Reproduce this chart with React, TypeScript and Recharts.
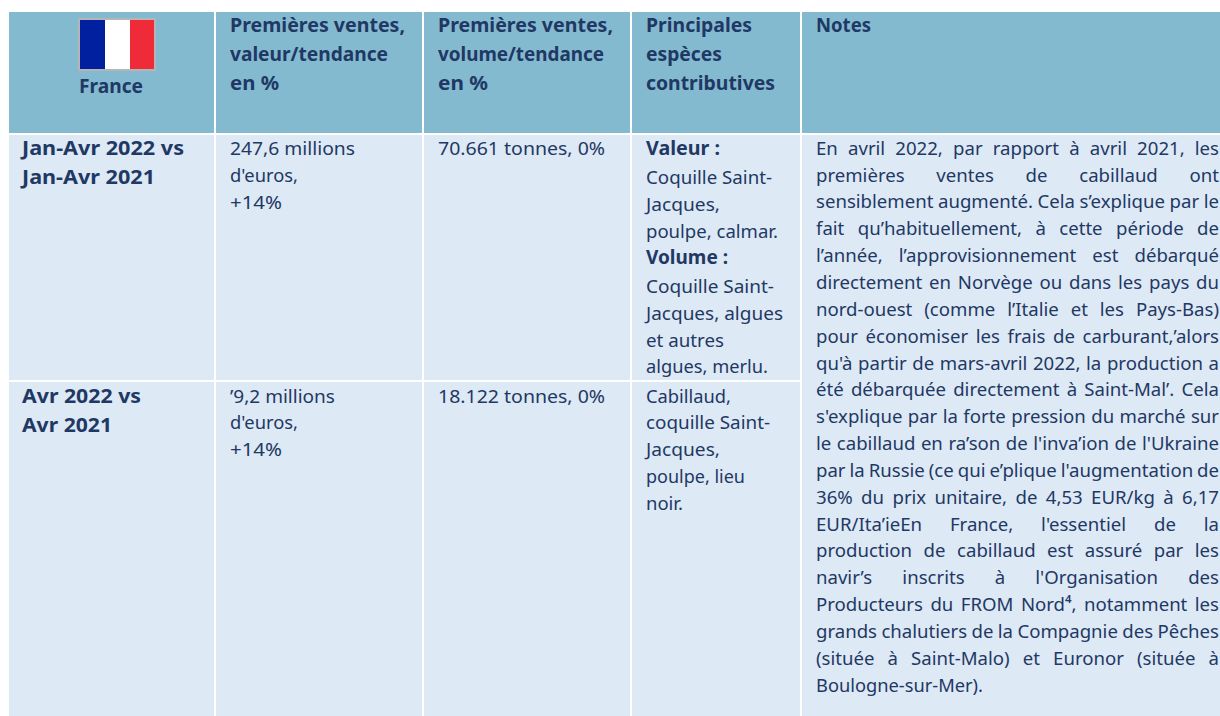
import React from "react";
import { ComposedChart, XAxis, YAxis, ReferenceArea, Scatter } from "recharts";

// ---- content ----
const headerCols = [
  ["Premières ventes,", "valeur/tendance", "en %"],
  ["Premières ventes,", "volume/tendance", "en %"],
  ["Principales", "espèces", "contributives"],
  ["Notes"],
];
const countryLabel = "France";
const periodLabels = [
  ["Jan-Avr 2022 vs", "Jan-Avr 2021"],
  ["Avr 2022 vs", "Avr 2021"],
];
const valueCells = [
  ["247,6 millions", "d'euros,", "+14%"],
  ["’9,2 millions", "d'euros,", "+14%"],
];
const volumeCells = ["70.661 tonnes, 0%", "18.122 tonnes, 0%"];
const speciesRow1: [string, boolean][] = [
  ["Valeur :", true],
  ["Coquille Saint-", false],
  ["Jacques,", false],
  ["poulpe, calmar.", false],
  ["Volume :", true],
  ["Coquille Saint-", false],
  ["Jacques, algues", false],
  ["et autres", false],
  ["algues, merlu.", false],
];
const speciesRow2 = ["Cabillaud,", "coquille Saint-", "Jacques,", "poulpe, lieu", "noir."];
const notesLines = [
  "En avril 2022, par rapport à avril 2021, les",
  "premières ventes de cabillaud ont",
  "sensiblement augmenté. Cela s’explique par le",
  "fait qu’habituellement, à cette période de",
  "l’année, l’approvisionnement est débarqué",
  "directement en Norvège ou dans les pays du",
  "nord-ouest (comme l’Italie et les Pays-Bas)",
  "pour économiser les frais de carburant,’alors",
  "qu'à partir de mars-avril 2022, la production a",
  "été débarquée directement à Saint-Mal’. Cela",
  "s'explique par la forte pression du marché sur",
  "le cabillaud en ra’son de l'inva’ion de l'Ukraine",
  "par la Russie (ce qui e’plique l'augmentation de",
  "36% du prix unitaire, de 4,53 EUR/kg à 6,17",
  "EUR/Ita’ieEn France, l'essentiel de la",
  "production de cabillaud est assuré par les",
  "navir’s inscrits à l'Organisation des",
  "Producteurs du FROM Nord⁴, notamment les",
  "grands chalutiers de la Compagnie des Pêches",
  "(située à Saint-Malo) et Euronor (située à",
  "Boulogne-sur-Mer).",
];

// ---- layout (table grid in page pixels) ----
const W = 1220;
const H = 716;
const colEdges = [[9, 214], [216, 422], [424, 630], [632, 800], [802, 1220]];
const headerBand = [12, 133];
const row1Band = [135, 380];
const row2Band = [382, 716];
const textX = [22, 230, 438, 646, 816];
const notesRight = 1219;
const FONT = '"Noto Sans", sans-serif';
const SIZE = 18.6;
const BOLD_SIZE = 18.8;
const DY = 0.7;
const HEADER = "#84BAD0";
const BODY = "#DDE9F5";
const INK = "#1F3864";

// rendered widths of the lines in each cell, as they run in the reference typeface
const headerWidths = [[175, 158, 49], [175, 166, 50], [106, 76, 129], [55]];
const periodWidths = [[162, 133], [119, 90]];
const valueWidths = [[125, 68, 52], [105, 68, 52]];
const volumeWidth = 167;
const species1Widths = [74, 126, 74, 132, 82, 128, 137, 78, 122];
const species2Widths = [85, 124, 74, 99, 37];
const countryWidth = 64;
const lastNoteWidth = 167;

type Line = { x: number; y: number; t: string; bold?: boolean; anchor?: string; fit?: number; w?: number };

const lines: Line[] = [];
const at = (arr: string[], x: number, ys: number[], ws: number[], bold = false) =>
  arr.forEach((t, i) => lines.push({ x, y: ys[i] + DY, t, bold, w: ws[i] }));

headerCols.forEach((c, i) => at(c, textX[i + 1], [31, 60, 89], headerWidths[i], true));
lines.push({ x: 111, y: 92 + DY, t: countryLabel, bold: true, anchor: "middle", w: countryWidth });
at(periodLabels[0], textX[0], [154, 183], periodWidths[0], true);
at(periodLabels[1], textX[0], [402, 431], periodWidths[1], true);
at(valueCells[0], textX[1], [154, 181, 208], valueWidths[0]);
at(valueCells[1], textX[1], [402, 428, 455], valueWidths[1]);
lines.push({ x: textX[2], y: 154 + DY, t: volumeCells[0], w: volumeWidth });
lines.push({ x: textX[2], y: 402 + DY, t: volumeCells[1], w: volumeWidth });
const sp1Y = [154, 183, 210, 237, 263, 292, 319, 346, 372];
speciesRow1.forEach(([t, bold], i) =>
  lines.push({ x: textX[3], y: sp1Y[i] + DY, t, bold, w: species1Widths[i] })
);
at(speciesRow2, textX[3], [402, 428, 455, 482, 509], species2Widths);
notesLines.forEach((t, i) => {
  const last = i === notesLines.length - 1;
  lines.push({
    x: textX[4],
    y: 154 + 26.85 * i + DY,
    t,
    fit: last ? undefined : notesRight - textX[4],
    w: last ? lastNoteWidth : undefined,
  });
});

let ctx: CanvasRenderingContext2D | null = null;
const measure = (t: string) => {
  if (!ctx) ctx = document.createElement("canvas").getContext("2d");
  ctx!.font = `${SIZE}px ${FONT}`;
  return ctx!.measureText(t).width;
};

const TextLine = (props: any) => {
  const { cx, cy, payload } = props;
  const d: Line = payload;
  let wordSpacing: number | undefined;
  let textLength = d.w;
  if (d.fit) {
    const gaps = d.t.split(" ").length - 1;
    const w = measure(d.t);
    wordSpacing = (d.fit - w) / gaps;
    if (wordSpacing < -1.5) {
      wordSpacing = -1.5;
      textLength = d.fit;
    }
  }
  return (
    <text
      x={cx}
      y={cy}
      fontFamily={FONT}
      fontSize={d.bold ? BOLD_SIZE : SIZE}
      fontWeight={d.bold ? 700 : 400}
      fill={INK}
      textAnchor={d.anchor || "start"}
      wordSpacing={wordSpacing}
      textLength={textLength}
      lengthAdjust={textLength ? "spacingAndGlyphs" : undefined}
    >
      {d.t}
    </text>
  );
};

const area = (k: string, x: number[], y: number[], fill: string) => (
  <ReferenceArea key={k} x1={x[0]} x2={x[1]} y1={y[0]} y2={y[1]} fill={fill} fillOpacity={1} stroke="none" />
);

export default function App() {
  return (
    <div style={{ position: "absolute", left: 0, top: 0, width: W, height: H, background: "#fff" }}>
      <ComposedChart width={W} height={H} margin={{ top: 0, right: 0, bottom: 0, left: 0 }} data={lines}>
        <XAxis type="number" dataKey="x" domain={[0, W]} hide allowDataOverflow />
        <YAxis type="number" dataKey="y" domain={[0, H]} reversed hide allowDataOverflow />
        {colEdges.map((c, i) => area(`h${i}`, c, headerBand, HEADER))}
        {colEdges.slice(0, 4).map((c, i) => area(`a${i}`, c, row1Band, BODY))}
        {colEdges.slice(0, 4).map((c, i) => area(`b${i}`, c, row2Band, BODY))}
        {area("notes", colEdges[4], [row1Band[0], row2Band[1]], BODY)}
        {area("flagBorder", [78, 156], [18, 71], "#B5B5B5")}
        {area("flagBlue", [80, 105], [20, 69], "#00209F")}
        {area("flagWhite", [105, 130], [20, 69], "#FFFFFF")}
        {area("flagRed", [130, 154], [20, 69], "#EF2B3A")}
        <Scatter data={lines} dataKey="y" shape={TextLine} isAnimationActive={false} />
      </ComposedChart>
    </div>
  );
}
